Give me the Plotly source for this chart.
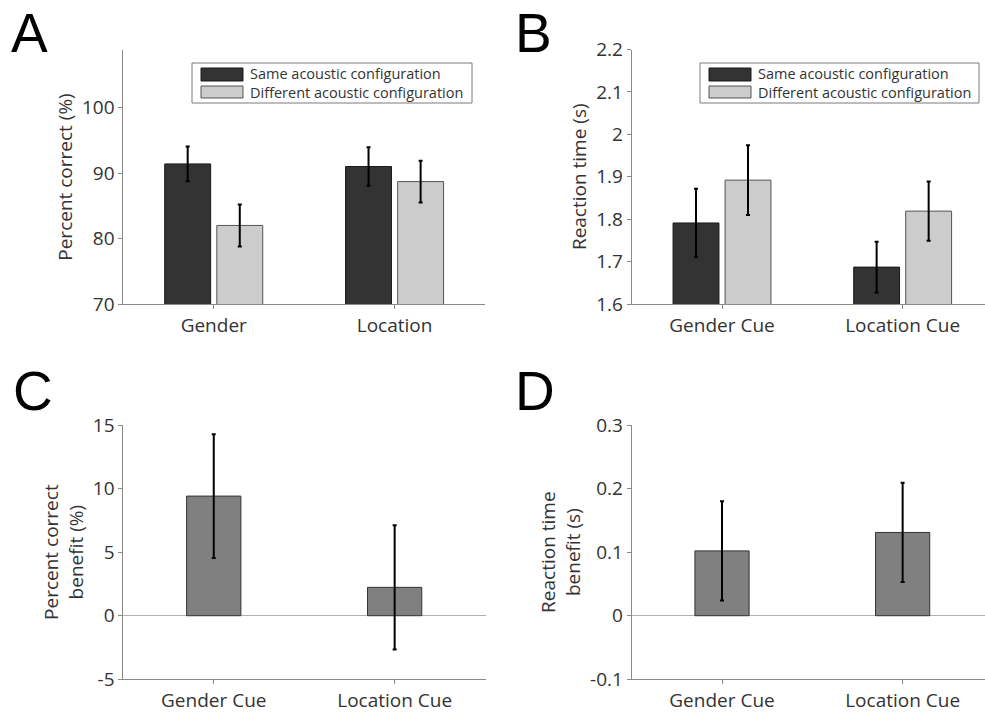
import plotly.graph_objects as go

# ---------------- data ----------------
cats_A = ["Gender", "Location"]
cats_cue = ["Gender Cue", "Location Cue"]
series_names = ["Same acoustic configuration", "Different acoustic configuration"]

pc_same = [91.4, 91.0]
pc_same_err = [2.65, 2.95]
pc_diff = [82.0, 88.7]
pc_diff_err = [3.2, 3.2]

rt_same = [1.791, 1.687]
rt_same_err = [0.081, 0.060]
rt_diff = [1.892, 1.819]
rt_diff_err = [0.082, 0.070]

pc_benefit = [9.41, 2.23]
pc_benefit_err = [4.87, 4.88]
rt_benefit = [0.102, 0.131]
rt_benefit_err = [0.078, 0.078]

yticks_A = [70, 80, 90, 100]
yticks_B = [1.6, 1.7, 1.8, 1.9, 2.0, 2.1, 2.2]
yticklabels_B = ["1.6", "1.7", "1.8", "1.9", "2", "2.1", "2.2"]
yticks_C = [-5, 0, 5, 10, 15]
yticks_D = [-0.1, 0, 0.1, 0.2, 0.3]
yticklabels_D = ["-0.1", "0", "0.1", "0.2", "0.3"]

# ---------------- style ----------------
W, H = 985, 713
FONT = "Open Sans"
TXT = "#333333"
AXC = "#8a8a8a"
DARK = "#333333"
LIGHT = "#cccccc"
MID = "#808080"
TICK_SIZE = 19
TITLE_SIZE = 19

xpos = [i + 1 for i in range(len(cats_A))]


def px(x):
    return x / W


def py(y):
    return 1 - y / H


fig = go.Figure()


def err(arr):
    return dict(type="data", array=arr, visible=True, color="black",
                thickness=2, width=2)


# Panel A
fig.add_trace(go.Bar(x=xpos, y=pc_same, name=series_names[0], width=0.254, offset=-0.271,
                     marker=dict(color=DARK, line=dict(color="#1a1a1a", width=1)),
                     error_y=err(pc_same_err), xaxis="x", yaxis="y", showlegend=False))
fig.add_trace(go.Bar(x=xpos, y=pc_diff, name=series_names[1], width=0.254, offset=0.017,
                     marker=dict(color=LIGHT, line=dict(color="#555555", width=1)),
                     error_y=err(pc_diff_err), xaxis="x", yaxis="y", showlegend=False))
# Panel B
fig.add_trace(go.Bar(x=xpos, y=rt_same, name=series_names[0], width=0.254, offset=-0.271,
                     marker=dict(color=DARK, line=dict(color="#1a1a1a", width=1)),
                     error_y=err(rt_same_err), xaxis="x2", yaxis="y2", showlegend=False))
fig.add_trace(go.Bar(x=xpos, y=rt_diff, name=series_names[1], width=0.254, offset=0.017,
                     marker=dict(color=LIGHT, line=dict(color="#555555", width=1)),
                     error_y=err(rt_diff_err), xaxis="x2", yaxis="y2", showlegend=False))
# Panel C
fig.add_trace(go.Bar(x=xpos, y=pc_benefit, width=0.30,
                     marker=dict(color=MID, line=dict(color="#333333", width=1)),
                     error_y=err(pc_benefit_err), xaxis="x3", yaxis="y3", showlegend=False))
# Panel D
fig.add_trace(go.Bar(x=xpos, y=rt_benefit, width=0.30,
                     marker=dict(color=MID, line=dict(color="#333333", width=1)),
                     error_y=err(rt_benefit_err), xaxis="x4", yaxis="y4", showlegend=False))

common_axis = dict(showline=True, linecolor=AXC, linewidth=1, ticks="outside",
                   ticklen=4, tickcolor=AXC, showgrid=False, zeroline=False,
                   tickfont=dict(family=FONT, size=TICK_SIZE, color=TXT),
                   fixedrange=True, automargin=False)


def xax(domain, rng, labels, anchor):
    d = dict(common_axis)
    d.update(domain=domain, range=rng, tickmode="array", tickvals=xpos,
             ticktext=labels, anchor=anchor)
    return d


def yax(domain, rng, vals, labels, anchor, title, zero=False):
    d = dict(common_axis)
    d.update(domain=domain, range=rng, tickmode="array", tickvals=vals,
             ticktext=labels, anchor=anchor,
             title=dict(text=title, font=dict(family=FONT, size=TITLE_SIZE, color=TXT),
                        standoff=4))
    if zero:
        d.update(zeroline=True, zerolinecolor="#b0b0b0", zerolinewidth=1)
    return d


fig.update_layout(
    width=W, height=H,
    margin=dict(l=0, r=0, t=0, b=0, autoexpand=False),
    paper_bgcolor="white", plot_bgcolor="white",
    barmode="overlay",
    font=dict(family=FONT, color=TXT),
    xaxis=xax([px(123.3), px(485)], [0.5, 2.5], cats_A, "y"),
    yaxis=yax([py(304), py(50)], [70, 108.8], yticks_A, [str(v) for v in yticks_A], "x",
              "Percent correct (%)"),
    xaxis2=xax([px(631.7), 1.0], [0.5, 2.456], cats_cue, "y2"),
    yaxis2=yax([py(304), py(49.5)], [1.6, 2.2], yticks_B, yticklabels_B, "x2",
               "Reaction time (s)"),
    xaxis3=xax([px(123.3), px(486)], [0.5, 2.505], cats_cue, "y3"),
    yaxis3=yax([py(679.3), py(425)], [-5, 15], yticks_C, [str(v) for v in yticks_C], "x3",
               "Percent correct<br>benefit (%)", zero=True),
    xaxis4=xax([px(631.7), 1.0], [0.5, 2.456], cats_cue, "y4"),
    yaxis4=yax([py(679.3), py(425)], [-0.1, 0.3], yticks_D, yticklabels_D, "x4",
               "Reaction time<br>benefit (s)", zero=True),
)

# panel letters
LETTER_FONT = dict(family="Liberation Sans", size=55, color="black")
for letter, x, y in [("A", 9, 0), ("B", 513, 0), ("C", 11, 358), ("D", 513, 358)]:
    fig.add_annotation(text=letter, x=px(x), y=py(y), xref="paper", yref="paper",
                       xanchor="left", yanchor="top", showarrow=False,
                       font=LETTER_FONT)

# legends (drawn boxes with swatches)
for (bx0, bx1) in [(192, 472), (700, 979)]:
    fig.add_shape(type="rect", xref="paper", yref="paper",
                  x0=px(bx0), x1=px(bx1), y0=py(103), y1=py(63),
                  line=dict(color="#7a7a7a", width=1), fillcolor="white")
    sx0 = bx0 + 9
    sx1 = bx0 + 51
    for col, lc, yy0, yy1 in [(DARK, "#1a1a1a", 68, 81), (LIGHT, "#555555", 86, 98)]:
        fig.add_shape(type="rect", xref="paper", yref="paper",
                      x0=px(sx0), x1=px(sx1), y0=py(yy1), y1=py(yy0),
                      line=dict(color=lc, width=1), fillcolor=col)
    fig.add_annotation(text="<br>".join(series_names), x=px(bx0 + 56), y=py(83.5),
                       xref="paper", yref="paper", xanchor="left", yanchor="middle",
                       align="left", showarrow=False,
                       font=dict(family=FONT, size=14.5, color=TXT))

post = (
    "document.body.style.margin='0';"
    "document.body.style.overflow='hidden';"
    "var d=document.getElementById('{plot_id}');"
    "d.style.position='absolute';d.style.top='0px';d.style.left='0px';"
)

fig.write_html("out.html", config={"displayModeBar": False}, post_script=post)
